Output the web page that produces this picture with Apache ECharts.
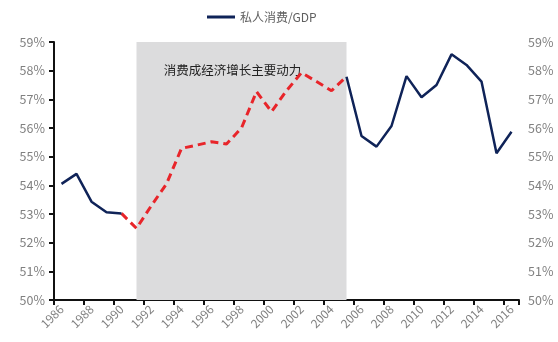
<!DOCTYPE html>
<html>
<head>
<meta charset="utf-8">
<script src="https://cdn.jsdelivr.net/npm/echarts@6/dist/echarts.min.js"></script>
<style>
  html, body { margin: 0; padding: 0; background: #fff; }
  #chart { width: 558px; height: 342px; }
</style>
</head>
<body>
<div id="chart"></div>
<script>
const years = ['1986', '1987', '1988', '1989', '1990', '1991', '1992', '1993', '1994', '1995',
  '1996', '1997', '1998', '1999', '2000', '2001', '2002', '2003', '2004', '2005',
  '2006', '2007', '2008', '2009', '2010', '2011', '2012', '2013', '2014', '2015', '2016']
const ratio = [54.05, 54.4, 53.43, 53.06, 53.02, 52.5, 53.3, 54.05, 55.29, 55.4,
  55.52, 55.44, 56.0, 57.27, 56.57, 57.3, 57.93, 57.62, 57.3, 57.79,
  55.72, 55.35, 56.07, 57.81, 57.07, 57.5, 58.57, 58.2, 57.62, 55.12, 55.87]
const yTicks = [50, 51, 52, 53, 54, 55, 56, 57, 58, 59]
const dashFrom = '1990'
const shadeFrom = '1991'
const shadeTo = '2005'
const seriesName = '私人消费/GDP'
const noteText = '消费成经济增长主要动力'

const i0 = years.indexOf(dashFrom)
const i1 = years.indexOf(shadeTo)
const solidData = ratio.map((v, i) => (i <= i0 || i >= i1) ? v : '-')
const dashData = ratio.map((v, i) => (i >= i0 && i <= i1) ? v : '-')

const font = '"Noto Sans CJK SC", "Noto Sans", sans-serif'
const labelColor = '#808080'

const yAxisBase = {
  type: 'value',
  min: yTicks[0],
  max: yTicks[yTicks.length - 1],
  interval: 1,
  splitLine: { show: false },
  axisLabel: { formatter: '{value}%', color: labelColor, fontSize: 12.5, fontFamily: font, margin: 9 }
}

const chart = echarts.init(document.getElementById('chart'))
chart.setOption({
  animation: false,
  textStyle: { fontFamily: font },
  grid: { left: 54, right: 39, top: 42, bottom: 42 },
  legend: {
    data: [seriesName],
    top: 6,
    left: 202,
    itemWidth: 28,
    itemHeight: 3,
    itemGap: 4,
    icon: 'rect',
    textStyle: { color: '#606060', fontSize: 12, fontFamily: font }
  },
  xAxis: {
    type: 'category',
    data: years,
    boundaryGap: true,
    axisLine: { lineStyle: { color: '#111', width: 2 } },
    axisTick: { show: true, length: 5, lineStyle: { color: '#111', width: 2 } },
    axisLabel: { interval: 1, rotate: 45, color: labelColor, fontSize: 12, fontFamily: font, margin: 7 }
  },
  yAxis: [
    Object.assign({}, yAxisBase, {
      position: 'left',
      axisLine: { show: true, lineStyle: { color: '#111', width: 2 } },
      axisTick: { show: true, length: 5, lineStyle: { color: '#111', width: 2 } }
    }),
    Object.assign({}, yAxisBase, {
      position: 'right',
      axisLine: { show: false },
      axisTick: { show: false }
    })
  ],
  series: [
    {
      name: '消费阶段',
      type: 'line',
      data: dashData,
      symbol: 'none',
      z: 3,
      lineStyle: { color: '#e8252a', width: 3, type: [8, 5] },
      markArea: {
        silent: true,
        itemStyle: { color: '#dcdcdd' },
        label: {
          show: true,
          position: 'insideTop',
          offset: [-9, 17],
          color: '#222',
          fontSize: 12.5,
          fontFamily: font
        },
        data: [[
          { name: noteText, xAxis: shadeFrom, yAxis: 50 },
          { xAxis: shadeTo, yAxis: 59.07 }
        ]]
      }
    },
    {
      name: seriesName,
      type: 'line',
      data: solidData,
      symbol: 'none',
      z: 4,
      itemStyle: { color: '#0f2358' },
      lineStyle: { color: '#0f2358', width: 2.5 }
    }
  ]
})
</script>
</body>
</html>
